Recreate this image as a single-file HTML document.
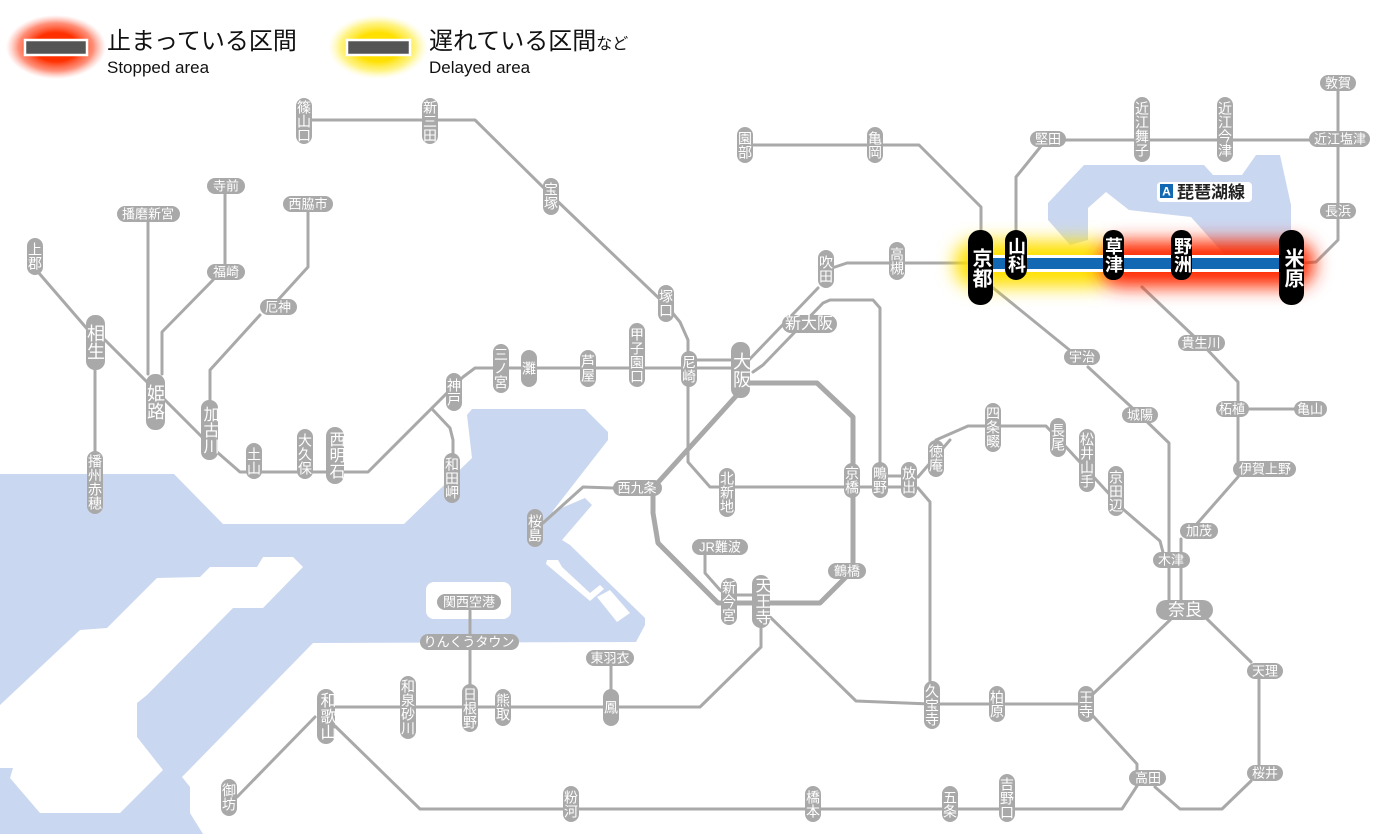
<!DOCTYPE html>
<html><head><meta charset="utf-8"><style>
html,body{margin:0;padding:0;background:#fff;width:1400px;height:834px;overflow:hidden}
svg{display:block;font-family:"Liberation Sans","Noto Sans CJK JP",sans-serif}
.ln{fill:none;stroke:#a9a9a9;stroke-width:3;stroke-linejoin:round;stroke-linecap:round}
.lp{fill:none;stroke:#a9a9a9;stroke-width:5;stroke-linejoin:round}
.p{fill:#a9a9a9}
.v{writing-mode:vertical-rl;text-anchor:middle;font-size:14px;fill:#fff}
.h{text-anchor:middle;dominant-baseline:central;font-size:13px;fill:#fff}
.b{fill:#000}
.bv{writing-mode:vertical-rl;text-anchor:middle;font-size:18px;fill:#fff;font-weight:bold}
</style></head><body>
<svg width="1400" height="834" viewBox="0 0 1400 834" xmlns="http://www.w3.org/2000/svg">
<defs>
<filter id="bl" x="-50%" y="-100%" width="200%" height="300%"><feGaussianBlur stdDeviation="9"/></filter>
<radialGradient id="rg"><stop offset="0.45" stop-color="#ff3000"/><stop offset="0.75" stop-color="#ff6040" stop-opacity="0.7"/><stop offset="1" stop-color="#ff9080" stop-opacity="0"/></radialGradient>
<radialGradient id="yg"><stop offset="0.45" stop-color="#ffe000"/><stop offset="0.75" stop-color="#ffee50" stop-opacity="0.7"/><stop offset="1" stop-color="#fff8a0" stop-opacity="0"/></radialGradient>
</defs>

<!-- water -->
<polygon fill="#cad7f0" points="0,474 174,474 223,524 404,524 472,458 467,415 472,409 585,409 608,432 608,440 552,512 585,498 592,505 562,540 570,545 645,618 645,625 636,642 313,643 182,777 190,787 190,813 203,834 0,834"/>
<polygon fill="#fff" points="263,557 293,557 303,567 263,608 233,608 147,695 137,703 137,737 163,770 120,813 40,813 10,778 13,768 0,768 0,705 80,630 107,628 157,578 200,577 210,567 257,567"/>
<polygon fill="#fff" points="547,560 558,560 562,567 590,593 600,585 604,589 590,601 546,564"/>
<polygon fill="#fff" points="597,597 610,590 630,613 617,622"/>
<rect x="426" y="582" width="85" height="37" rx="8" fill="#fff"/>
<polygon fill="#cad7f0" points="1084,165 1204,165 1213,175 1242,175 1256,155 1280,155 1291,205 1291,255 1225,255 1191,217 1129,210 1106,192 1088,208 1088,240 1070,245 1048,220 1048,203"/>

<!-- legend -->
<ellipse cx="56" cy="47" rx="50" ry="32" fill="url(#rg)"/>
<rect x="25" y="40" width="62" height="15" fill="#555" stroke="#fff" stroke-width="2.5"/>
<text x="107" y="49" font-size="24" fill="#111">止まっている区間</text>
<text x="107" y="73" font-size="17" fill="#111">Stopped area</text>
<ellipse cx="378" cy="47" rx="50" ry="32" fill="url(#yg)"/>
<rect x="347" y="40" width="63" height="15" fill="#555" stroke="#fff" stroke-width="2.5"/>
<text x="429" y="49" font-size="24" fill="#111">遅れている区間<tspan font-size="16">など</tspan></text>
<text x="429" y="73" font-size="17" fill="#111">Delayed area</text>

<!-- lines -->
<polyline class="ln" points="304,120 475,120 551,195 666,305 680,322 688,340 688,462 710,487 909,487"/>
<polyline class="ln" points="38,272 95,338"/>
<polyline class="ln" points="105,340 202,437"/>
<polyline class="ln" points="217,452 240,472 368,472 463,377 475,368 741,368"/>
<polyline class="ln" points="689,360 741,360"/>
<polyline class="ln" points="95,370 95,451"/>
<polyline class="ln" points="148,221 148,374"/>
<polyline class="ln" points="225,194 225,265"/>
<polyline class="ln" points="213,280 162,332 162,374"/>
<polyline class="ln" points="308,212 308,267 278,300"/>
<polyline class="ln" points="260,315 210,370 210,400"/>
<polyline class="ln" points="433,410 450,428 453,440 453,453"/>
<polyline class="lp" points="741,383 817,383 853,417 853,570 820,603 718,603 658,543 653,513 653,488 737,395"/>
<polyline class="ln" points="747,362 818,288"/>
<polyline class="ln" points="826,270 847,263 968,263"/>
<polyline class="ln" points="753,372 763,365 823,303 830,300 873,300 880,308 880,462"/>
<polyline class="ln" points="745,145 919,145 981,207 981,230"/>
<polyline class="ln" points="992,287 1072,352"/>
<polyline class="ln" points="1088,367 1140,415 1169,443 1169,601"/>
<polyline class="ln" points="1016,230 1016,177 1046,140 1338,140"/>
<polyline class="ln" points="1338,91 1338,240 1316,262 1304,263"/>
<polyline class="ln" points="1142,287 1201,343 1238,382 1238,469"/>
<polyline class="ln" points="1249,409 1294,409"/>
<polyline class="ln" points="1238,477 1195,526"/>
<polyline class="ln" points="1181,539 1181,601"/>
<polyline class="ln" points="918,477 950,440"/>
<polyline class="ln" points="936,440 968,426 1046,426 1066,447 1124,510 1160,541 1165,560"/>
<polyline class="ln" points="880,476 909,476"/>
<polyline class="ln" points="918,488 930,502 930,704 1086,704"/>
<polyline class="ln" points="767,614 856,701 930,704"/>
<polyline class="ln" points="1093,694 1171,619"/>
<polyline class="ln" points="1207,619 1251,662"/>
<polyline class="ln" points="1259,679 1259,766"/>
<polyline class="ln" points="1251,781 1222,809 1180,809 1155,787"/>
<polyline class="ln" points="1093,716 1137,764 1137,786 1122,809 420,809 335,726"/>
<polyline class="ln" points="761,628 761,647 700,707 335,707"/>
<polyline class="ln" points="611,689 611,666"/>
<polyline class="ln" points="470,684 470,611"/>
<polyline class="ln" points="315,717 237,797"/>
<polyline class="ln" points="613,488 583,487 543,523"/>
<polyline class="ln" points="705,553 705,573 720,590 729,596"/>
<polyline class="ln" points="737,595 752,595"/>

<!-- highlight -->
<rect x="955" y="241" width="158" height="46" rx="20" fill="#ffe000" filter="url(#bl)"/>
<rect x="1100" y="241" width="214" height="46" rx="20" fill="#ff2a00" filter="url(#bl)"/>
<rect x="968" y="255" width="336" height="17" fill="#fff"/>
<rect x="968" y="258" width="336" height="11" fill="#1268b3"/>

<!-- vertical stations -->
<g>
<rect class="p" x="296" y="98" width="16" height="46" rx="8"/><text class="v" x="304" y="121">篠山口</text>
<rect class="p" x="422" y="98" width="16" height="46" rx="8"/><text class="v" x="430" y="121">新三田</text>
<rect class="p" x="543" y="178" width="16" height="37" rx="8"/><text class="v" x="551" y="196">宝塚</text>
<rect class="p" x="658" y="285" width="16" height="37" rx="8"/><text class="v" x="666" y="303">塚口</text>
<rect class="p" x="629" y="323" width="16" height="64" rx="8"/><text class="v" x="637" y="355">甲子園口</text>
<rect class="p" x="681" y="351" width="16" height="36" rx="8"/><text class="v" x="689" y="369">尼崎</text>
<rect class="p" x="731" y="342" width="19" height="56" rx="9"/><text class="v" x="741" y="370" style="font-size:18px">大阪</text>
<rect class="p" x="580" y="350" width="16" height="37" rx="8"/><text class="v" x="588" y="368">芦屋</text>
<rect class="p" x="521" y="350" width="16" height="37" rx="8"/><text class="v" x="529" y="368">灘</text>
<rect class="p" x="493" y="344" width="16" height="49" rx="8"/><text class="v" x="501" y="368">三ノ宮</text>
<rect class="p" x="446" y="373" width="16" height="38" rx="8"/><text class="v" x="454" y="392">神戸</text>
<rect class="p" x="444" y="453" width="16" height="50" rx="8"/><text class="v" x="452" y="478">和田岬</text>
<rect class="p" x="326" y="427" width="18" height="57" rx="9"/><text class="v" x="335" y="455" style="font-size:16px">西明石</text>
<rect class="p" x="297" y="429" width="16" height="50" rx="8"/><text class="v" x="305" y="454">大久保</text>
<rect class="p" x="246" y="443" width="16" height="36" rx="8"/><text class="v" x="254" y="461">土山</text>
<rect class="p" x="201" y="400" width="17" height="60" rx="8"/><text class="v" x="209" y="430" style="font-size:16px">加古川</text>
<rect class="p" x="146" y="374" width="19" height="56" rx="9"/><text class="v" x="155" y="402" style="font-size:18px">姫路</text>
<rect class="p" x="86" y="315" width="19" height="55" rx="9"/><text class="v" x="95" y="342" style="font-size:18px">相生</text>
<rect class="p" x="27" y="238" width="16" height="37" rx="8"/><text class="v" x="35" y="256">上郡</text>
<rect class="p" x="87" y="451" width="16" height="63" rx="8"/><text class="v" x="95" y="482">播州赤穂</text>
<rect class="p" x="737" y="127" width="16" height="36" rx="8"/><text class="v" x="745" y="145">園部</text>
<rect class="p" x="867" y="127" width="16" height="36" rx="8"/><text class="v" x="875" y="145">亀岡</text>
<rect class="p" x="818" y="250" width="16" height="38" rx="8"/><text class="v" x="826" y="269">吹田</text>
<rect class="p" x="889" y="242" width="16" height="38" rx="8"/><text class="v" x="897" y="261">高槻</text>
<rect class="p" x="719" y="468" width="16" height="49" rx="8"/><text class="v" x="727" y="492">北新地</text>
<rect class="p" x="844" y="463" width="16" height="35" rx="8"/><text class="v" x="852" y="480">京橋</text>
<rect class="p" x="872" y="462" width="16" height="36" rx="8"/><text class="v" x="880" y="480">鴫野</text>
<rect class="p" x="901" y="462" width="16" height="36" rx="8"/><text class="v" x="909" y="480">放出</text>
<rect class="p" x="928" y="440" width="16" height="37" rx="8"/><text class="v" x="936" y="458">徳庵</text>
<rect class="p" x="985" y="403" width="16" height="49" rx="8"/><text class="v" x="993" y="427">四条畷</text>
<rect class="p" x="1050" y="418" width="16" height="39" rx="8"/><text class="v" x="1058" y="437">長尾</text>
<rect class="p" x="1079" y="429" width="16" height="63" rx="8"/><text class="v" x="1087" y="460">松井山手</text>
<rect class="p" x="1108" y="466" width="16" height="50" rx="8"/><text class="v" x="1116" y="491">京田辺</text>
<rect class="p" x="721" y="578" width="16" height="47" rx="8"/><text class="v" x="729" y="601">新今宮</text>
<rect class="p" x="752" y="575" width="18" height="53" rx="9"/><text class="v" x="761" y="601" style="font-size:16px">天王寺</text>
<rect class="p" x="1134" y="97" width="16" height="65" rx="8"/><text class="v" x="1142" y="129">近江舞子</text>
<rect class="p" x="1217" y="97" width="16" height="65" rx="8"/><text class="v" x="1225" y="129">近江今津</text>
<rect class="p" x="1078" y="686" width="16" height="36" rx="8"/><text class="v" x="1086" y="704">王寺</text>
<rect class="p" x="989" y="686" width="16" height="36" rx="8"/><text class="v" x="997" y="704">柏原</text>
<rect class="p" x="924" y="681" width="16" height="48" rx="8"/><text class="v" x="932" y="705">久宝寺</text>
<rect class="p" x="999" y="774" width="16" height="48" rx="8"/><text class="v" x="1007" y="798">吉野口</text>
<rect class="p" x="942" y="786" width="16" height="36" rx="8"/><text class="v" x="950" y="804">五条</text>
<rect class="p" x="805" y="786" width="16" height="36" rx="8"/><text class="v" x="813" y="804">橋本</text>
<rect class="p" x="563" y="786" width="16" height="36" rx="8"/><text class="v" x="571" y="804">粉河</text>
<rect class="p" x="221" y="779" width="16" height="37" rx="8"/><text class="v" x="229" y="797">御坊</text>
<rect class="p" x="317" y="689" width="18" height="55" rx="9"/><text class="v" x="326" y="716" style="font-size:16px">和歌山</text>
<rect class="p" x="400" y="676" width="16" height="63" rx="8"/><text class="v" x="408" y="707">和泉砂川</text>
<rect class="p" x="462" y="684" width="16" height="48" rx="8"/><text class="v" x="470" y="708">日根野</text>
<rect class="p" x="495" y="689" width="16" height="37" rx="8"/><text class="v" x="503" y="707">熊取</text>
<rect class="p" x="603" y="689" width="16" height="37" rx="8"/><text class="v" x="611" y="707">鳳</text>
<rect class="p" x="527" y="509" width="16" height="38" rx="8"/><text class="v" x="535" y="528">桜島</text>
</g>

<!-- horizontal stations -->
<g>
<rect class="p" x="207" y="178" width="38" height="16" rx="8"/><text class="h" x="226" y="186">寺前</text>
<rect class="p" x="117" y="206" width="63" height="16" rx="8"/><text class="h" x="148" y="214">播磨新宮</text>
<rect class="p" x="283" y="196" width="50" height="16" rx="8"/><text class="h" x="308" y="204">西脇市</text>
<rect class="p" x="207" y="264" width="38" height="16" rx="8"/><text class="h" x="226" y="272">福崎</text>
<rect class="p" x="260" y="299" width="37" height="16" rx="8"/><text class="h" x="278" y="307">厄神</text>
<rect class="p" x="782" y="315" width="55" height="18" rx="9"/><text class="h" x="809" y="324" style="font-size:16px">新大阪</text>
<rect class="p" x="1030" y="131" width="36" height="16" rx="8"/><text class="h" x="1048" y="139">堅田</text>
<rect class="p" x="1309" y="131" width="61" height="16" rx="8"/><text class="h" x="1340" y="139">近江塩津</text>
<rect class="p" x="1320" y="75" width="36" height="16" rx="8"/><text class="h" x="1338" y="83">敦賀</text>
<rect class="p" x="1320" y="203" width="36" height="16" rx="8"/><text class="h" x="1338" y="211">長浜</text>
<rect class="p" x="1064" y="349" width="36" height="16" rx="8"/><text class="h" x="1082" y="357">宇治</text>
<rect class="p" x="1178" y="335" width="47" height="16" rx="8"/><text class="h" x="1201" y="343">貴生川</text>
<rect class="p" x="1122" y="407" width="36" height="16" rx="8"/><text class="h" x="1140" y="415">城陽</text>
<rect class="p" x="1216" y="401" width="33" height="16" rx="8"/><text class="h" x="1232" y="409">柘植</text>
<rect class="p" x="1294" y="401" width="33" height="16" rx="8"/><text class="h" x="1310" y="409">亀山</text>
<rect class="p" x="1233" y="461" width="63" height="16" rx="8"/><text class="h" x="1265" y="469">伊賀上野</text>
<rect class="p" x="1180" y="523" width="38" height="16" rx="8"/><text class="h" x="1199" y="531">加茂</text>
<rect class="p" x="1153" y="552" width="37" height="16" rx="8"/><text class="h" x="1171" y="560">木津</text>
<rect class="p" x="1156" y="600" width="57" height="20" rx="10"/><text class="h" x="1185" y="610" style="font-size:17px">奈良</text>
<rect class="p" x="1247" y="663" width="36" height="16" rx="8"/><text class="h" x="1265" y="671">天理</text>
<rect class="p" x="1247" y="765" width="36" height="16" rx="8"/><text class="h" x="1265" y="773">桜井</text>
<rect class="p" x="1129" y="770" width="37" height="16" rx="8"/><text class="h" x="1148" y="778">高田</text>
<rect class="p" x="613" y="480" width="49" height="16" rx="8"/><text class="h" x="637" y="488">西九条</text>
<rect class="p" x="692" y="539" width="56" height="16" rx="8"/><text class="h" x="720" y="547">JR難波</text>
<rect class="p" x="828" y="563" width="38" height="16" rx="8"/><text class="h" x="847" y="571">鶴橋</text>
<rect class="p" x="586" y="650" width="48" height="16" rx="8"/><text class="h" x="610" y="658">東羽衣</text>
<rect class="p" x="420" y="634" width="99" height="16" rx="8"/><text class="h" x="469" y="642">りんくうタウン</text>
<rect class="p" x="437" y="594" width="64" height="16" rx="8"/><text class="h" x="469" y="602">関西空港</text>
</g>

<!-- black stations -->
<rect class="b" x="968" y="230" width="25" height="75" rx="12"/><text class="bv" x="980" y="268" style="font-size:20px">京都</text>
<rect class="b" x="1005" y="230" width="22" height="50" rx="11"/><text class="bv" x="1016" y="255">山科</text>
<rect class="b" x="1103" y="230" width="21" height="50" rx="10"/><text class="bv" x="1113" y="255">草津</text>
<rect class="b" x="1171" y="230" width="21" height="50" rx="10"/><text class="bv" x="1182" y="255">野洲</text>
<rect class="b" x="1279" y="230" width="25" height="75" rx="12"/><text class="bv" x="1292" y="268" style="font-size:20px">米原</text>

<!-- line label -->
<rect x="1157" y="182" width="95" height="20" rx="4" fill="#fff"/>
<rect x="1160" y="184" width="13" height="14" fill="#1268b3"/>
<text x="1166.5" y="195.5" font-size="12" fill="#fff" text-anchor="middle" font-weight="bold">A</text>
<text x="1177" y="198" font-size="17" fill="#222" font-weight="bold">琵琶湖線</text>
</svg>
</body></html>
